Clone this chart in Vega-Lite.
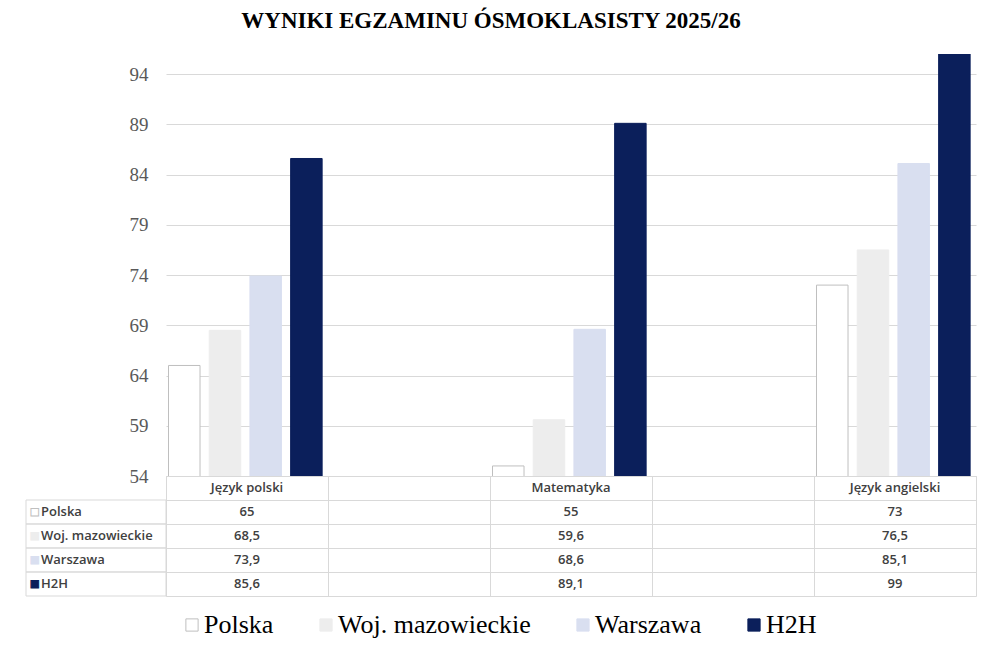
{
  "$schema": "https://vega.github.io/schema/vega-lite/v6.json",
  "background": "white",
  "padding": {"left": 25, "top": 10, "right": 5, "bottom": 5},
  "title": {
    "text": "WYNIKI EGZAMINU ÓSMOKLASISTY 2025/26",
    "font": "Liberation Serif",
    "fontSize": 23,
    "fontWeight": "bold",
    "color": "#000000",
    "anchor": "middle",
    "dx": -10,
    "offset": 21
  },
  "datasets": {
    "wyniki": [
      {"przedmiot": "Język polski", "seria": "Polska", "wynik": 65},
      {"przedmiot": "Język polski", "seria": "Woj. mazowieckie", "wynik": 68.5},
      {"przedmiot": "Język polski", "seria": "Warszawa", "wynik": 73.9},
      {"przedmiot": "Język polski", "seria": "H2H", "wynik": 85.6},
      {"przedmiot": "Matematyka", "seria": "Polska", "wynik": 55},
      {"przedmiot": "Matematyka", "seria": "Woj. mazowieckie", "wynik": 59.6},
      {"przedmiot": "Matematyka", "seria": "Warszawa", "wynik": 68.6},
      {"przedmiot": "Matematyka", "seria": "H2H", "wynik": 89.1},
      {"przedmiot": "Język angielski", "seria": "Polska", "wynik": 73},
      {"przedmiot": "Język angielski", "seria": "Woj. mazowieckie", "wynik": 76.5},
      {"przedmiot": "Język angielski", "seria": "Warszawa", "wynik": 85.1},
      {"przedmiot": "Język angielski", "seria": "H2H", "wynik": 99}
    ]
  },
  "columns": 2,
  "spacing": 0,
  "bounds": "flush",
  "concat": [
    {"width": 140, "height": 422, "data": {"values": []}, "mark": "point", "encoding": {}},
    {
      "width": 810,
      "height": 422,
      "data": {"name": "wyniki"},
      "mark": {"type": "bar", "clip": true, "strokeWidth": 1},
      "encoding": {
        "x": {
          "field": "przedmiot",
          "type": "nominal",
          "scale": {"type": "band", "domain": ["Język polski", "odstęp 1", "Matematyka", "odstęp 2", "Język angielski"], "paddingInner": 0, "paddingOuter": 0},
          "axis": null
        },
        "xOffset": {
          "field": "seria",
          "type": "nominal",
          "scale": {"domain": ["Polska", "Woj. mazowieckie", "Warszawa", "H2H"], "paddingInner": 0.226, "paddingOuter": 0.103, "align": 0.3}
        },
        "y": {
          "field": "wynik",
          "type": "quantitative",
          "scale": {"domain": [54, 96], "nice": false, "zero": false},
          "axis": {
            "title": null,
            "values": [54, 59, 64, 69, 74, 79, 84, 89, 94],
            "domain": false,
            "ticks": false,
            "grid": true,
            "gridColor": "#d9d9d9",
            "labelFont": "Liberation Serif",
            "labelFontSize": 19,
            "labelColor": "#595959",
            "labelPadding": 18
          }
        },
        "fill": {
          "field": "seria",
          "type": "nominal",
          "scale": {"domain": ["Polska", "Woj. mazowieckie", "Warszawa", "H2H"], "range": ["#ffffff", "#ededed", "#d9dff0", "#0b1f5b"]},
          "legend": {
            "title": null, "orient": "none", "legendX": 153, "legendY": 558, "direction": "horizontal",
            "symbolType": "square", "symbolSize": 150, "symbolStrokeWidth": 1,
            "labelFont": "Liberation Serif", "labelFontSize": 26, "labelColor": "#000000", "labelLimit": 0,
            "labelOffset": -1, "columnPadding": 39, "padding": 0
          }
        },
        "stroke": {
          "field": "seria",
          "type": "nominal",
          "scale": {"domain": ["Polska", "Woj. mazowieckie", "Warszawa", "H2H"], "range": ["#bfbfbf", "#ededed", "#d9dff0", "#0b1f5b"]},
          "legend": {
            "title": null, "orient": "none", "legendX": 153, "legendY": 558, "direction": "horizontal",
            "symbolType": "square", "symbolSize": 150, "symbolStrokeWidth": 1,
            "labelFont": "Liberation Serif", "labelFontSize": 26, "labelColor": "#000000", "labelLimit": 0,
            "labelOffset": -1, "columnPadding": 39, "padding": 0
          }
        }
      }
    },
    {
      "width": 140,
      "height": 120,
      "data": {"name": "wyniki"},
      "transform": [{"filter": "datum.przedmiot === 'Język polski'"}],
      "encoding": {
        "x": {"datum": 0, "type": "quantitative", "scale": {"domain": [0, 1]}, "axis": null},
        "y": {
          "field": "seria",
          "type": "nominal",
          "scale": {"type": "band", "domain": ["nagłówek", "Polska", "Woj. mazowieckie", "Warszawa", "H2H"], "paddingInner": 0, "paddingOuter": 0},
          "axis": null
        }
      },
      "layer": [
        {
          "mark": {"type": "rect", "fillOpacity": 0, "stroke": "#d9d9d9", "strokeWidth": 1},
          "encoding": {"x2": {"datum": 1}}
        },
        {
          "mark": {"type": "text", "text": "■", "align": "left", "dx": 4, "font": "DejaVu Sans", "fontSize": 10, "strokeWidth": 1},
          "encoding": {
            "fill": {"field": "seria", "type": "nominal", "legend": null},
            "stroke": {"field": "seria", "type": "nominal", "legend": null}
          }
        },
        {
          "mark": {"type": "text", "align": "left", "dx": 15, "font": "Open Sans", "fontSize": 13, "fontWeight": 600, "color": "#404040"},
          "encoding": {"text": {"field": "seria"}}
        }
      ]
    },
    {
      "width": 810,
      "height": 120,
      "view": {"stroke": "#d9d9d9"},
      "data": {"name": "wyniki"},
      "encoding": {
        "x": {
          "field": "przedmiot",
          "type": "nominal",
          "scale": {"type": "band", "domain": ["Język polski", "odstęp 1", "Matematyka", "odstęp 2", "Język angielski"], "paddingInner": 0, "paddingOuter": 0},
          "axis": {"title": null, "labels": false, "ticks": false, "domain": false, "grid": true, "gridColor": "#d9d9d9", "bandPosition": 0}
        }
      },
      "layer": [
        {
          "mark": {"type": "text", "font": "Open Sans", "fontSize": 13, "fontWeight": 600, "color": "#404040"},
          "encoding": {
            "y": {
              "field": "seria",
              "type": "nominal",
              "scale": {"type": "band", "domain": ["nagłówek", "Polska", "Woj. mazowieckie", "Warszawa", "H2H"], "paddingInner": 0, "paddingOuter": 0},
              "axis": {"title": null, "labels": false, "ticks": false, "domain": false, "grid": true, "gridColor": "#d9d9d9", "bandPosition": 0}
            },
            "text": {"field": "wynik", "type": "quantitative", "format": ".1~f"}
          }
        },
        {
          "transform": [{"filter": "datum.seria === 'Polska'"}],
          "mark": {"type": "text", "font": "Open Sans", "fontSize": 13, "fontWeight": 600, "color": "#404040"},
          "encoding": {
            "y": {
              "datum": "nagłówek",
              "type": "nominal",
              "scale": {"type": "band", "domain": ["nagłówek", "Polska", "Woj. mazowieckie", "Warszawa", "H2H"], "paddingInner": 0, "paddingOuter": 0},
              "axis": {"title": null, "labels": false, "ticks": false, "domain": false, "grid": true, "gridColor": "#d9d9d9", "bandPosition": 0}
            },
            "text": {"field": "przedmiot"}
          }
        }
      ]
    }
  ],
  "config": {
    "view": {"stroke": null},
    "locale": {"number": {"decimal": ",", "thousands": " ", "grouping": [3], "currency": ["", " zł"]}}
  }
}
